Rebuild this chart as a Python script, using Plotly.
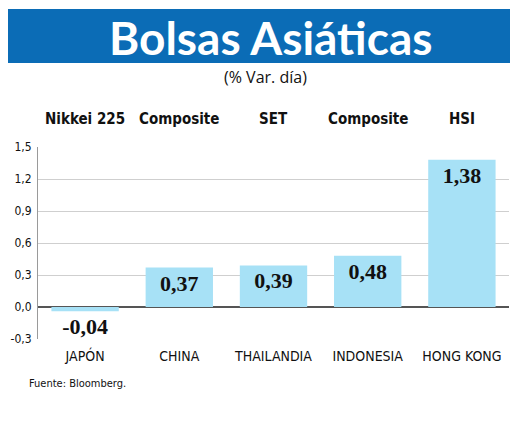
import plotly.graph_objects as go

countries = ["JAPÓN", "CHINA", "THAILANDIA", "INDONESIA", "HONG KONG"]
indices = ["Nikkei 225", "Composite", "SET", "Composite", "HSI"]
values = [-0.04, 0.37, 0.39, 0.48, 1.38]
value_labels = ["-0,04", "0,37", "0,39", "0,48", "1,38"]
y_ticks = [-0.3, 0.0, 0.3, 0.6, 0.9, 1.2, 1.5]
y_tick_labels = ["-0,3", "0,0", "0,3", "0,6", "0,9", "1,2", "1,5"]

NARROW = "Liberation Sans Narrow, DejaVu Sans Condensed, Liberation Sans"
OFF = 8  # page body margin
W, H = 520 - OFF, 422 - OFF
L, T = 38 - OFF, 147 - OFF
R = W - (509 - OFF)
B = H - (339 - OFF)
pw = W - L - R
ph = H - T - B

def px_x(px):
    return (px - OFF - L) / pw

def px_y(py):
    return 1 + (T - (py - OFF)) / ph

fig = go.Figure()
fig.add_trace(go.Bar(
    x=countries, y=values,
    marker=dict(color="#a7e1f6", line=dict(width=0)),
    text=value_labels,
    textposition=["outside" if v < 0 else "inside" for v in values],
    insidetextanchor="end",
    textfont=dict(family="Liberation Serif, DejaVu Serif", size=22, color="#111111", weight="bold"),
    cliponaxis=False,
    hoverinfo="skip",
))

# banner
fig.add_shape(type="rect", xref="paper", yref="paper",
              x0=px_x(3), x1=px_x(510), y0=px_y(63), y1=px_y(9),
              fillcolor="#0b6cb6", line=dict(width=0), layer="below")
fig.add_annotation(text="<b>Bolsas Asiáticas</b>", xref="paper", yref="paper",
                   x=px_x(270), y=px_y(37), xanchor="center", yanchor="middle",
                   showarrow=False, font=dict(family="Lato, Open Sans", size=46, color="white"))
fig.add_annotation(text="(% Var. día)", xref="paper", yref="paper",
                   x=px_x(265), y=px_y(77), xanchor="center", yanchor="middle",
                   showarrow=False, font=dict(family="Open Sans, Liberation Sans", size=16, color="#111111"))
for c, name in zip(countries, indices):
    fig.add_annotation(text=name, x=c, xref="x", yref="paper", y=px_y(119),
                       xanchor="center", yanchor="middle", showarrow=False,
                       font=dict(family=NARROW, size=15, color="#111111", weight="bold"))
fig.add_annotation(text="Fuente: Bloomberg.", xref="paper", yref="paper",
                   x=px_x(27), y=px_y(383), xanchor="left", yanchor="middle",
                   showarrow=False, font=dict(family=NARROW, size=11, color="#111111"))

fig.update_layout(
    width=W, height=H,
    margin=dict(l=L, r=R, t=T, b=B, pad=0, autoexpand=False),
    paper_bgcolor="white", plot_bgcolor="white",
    bargap=0.285,
    showlegend=False,
    xaxis=dict(showgrid=False, showline=False, ticks="", zeroline=False,
               automargin=False, ticklabelstandoff=7,
               tickfont=dict(family=NARROW, size=14, color="#111111"),
               fixedrange=True),
    yaxis=dict(range=[-0.3, 1.5], tickvals=y_ticks, ticktext=y_tick_labels,
               showgrid=True, gridcolor="#cfcfcf", gridwidth=1,
               zeroline=True, zerolinecolor="#555555", zerolinewidth=1.5,
               showline=True, linecolor="#9a9a9a", linewidth=1,
               automargin=False, ticks="", ticklabelstandoff=3,
               tickfont=dict(family=NARROW, size=12, color="#111111"),
               fixedrange=True),
)

fig.write_html("out.html")
